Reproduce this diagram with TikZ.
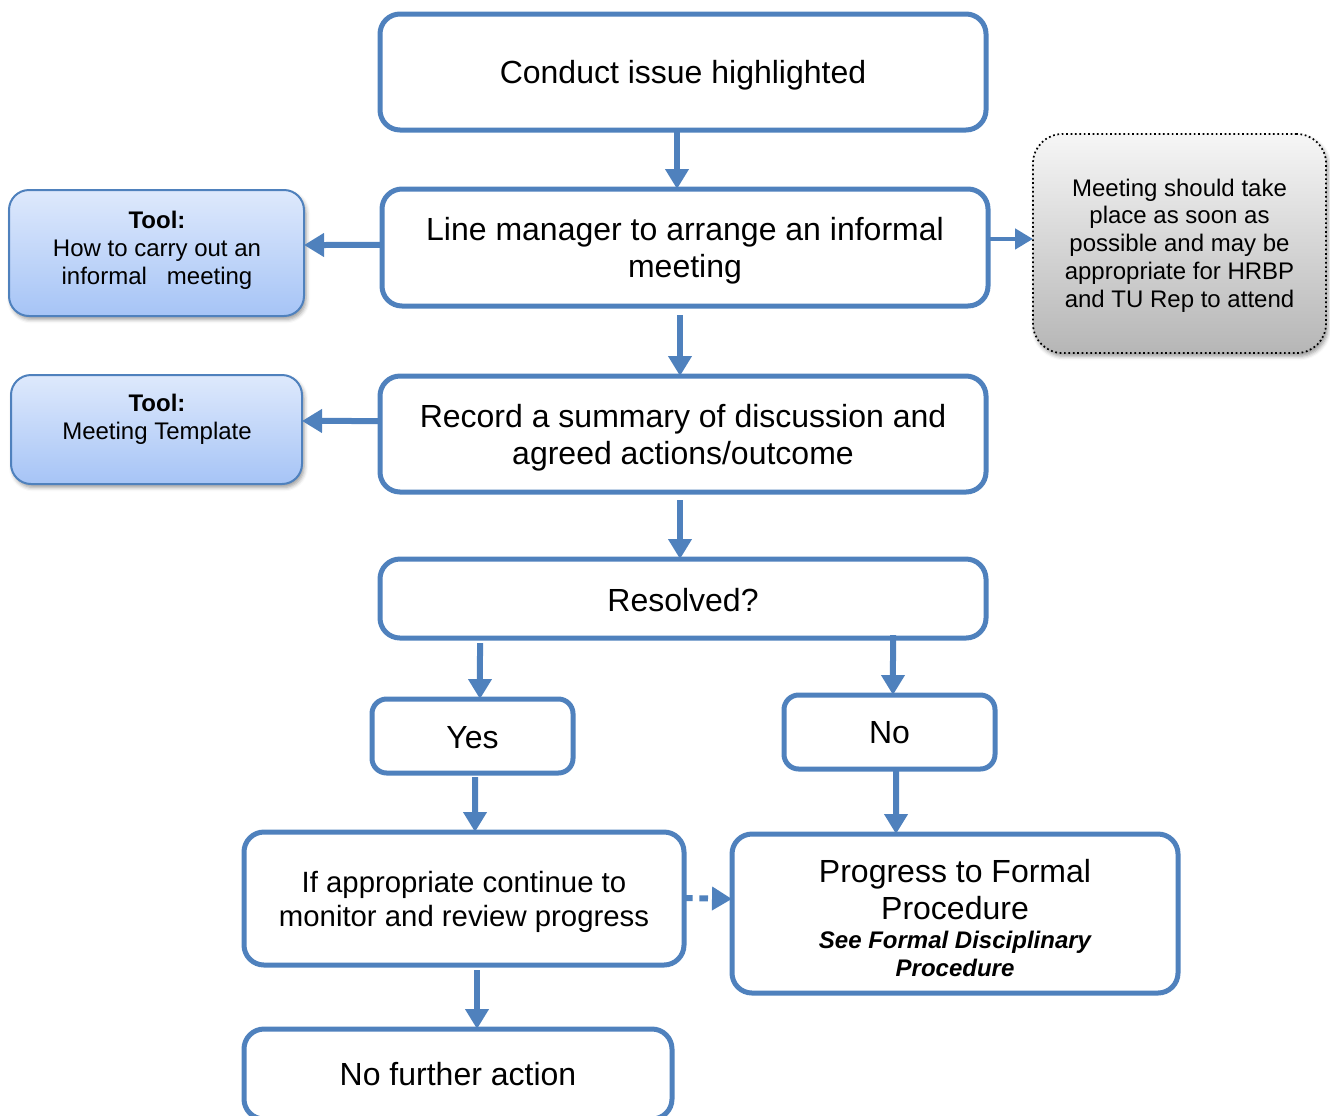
\documentclass[tikz,border=0pt]{standalone}
\usepackage{fontspec}
\setmainfont{Liberation Sans}
\usetikzlibrary{arrows.meta,shadows.blur}
\definecolor{bl}{RGB}{79,129,189}
\definecolor{tooltop}{RGB}{222,233,252}
\definecolor{toolbot}{RGB}{166,196,246}
\definecolor{graytop}{RGB}{246,246,246}
\definecolor{graybot}{RGB}{182,182,182}
\begin{document}
\begin{tikzpicture}[x=0.75pt,y=-0.75pt,
  mainbox/.style={draw=bl, line width=3.75pt, rounded corners=15pt, fill=white,
    inner sep=0pt, outer sep=0pt},
  mtext/.style={align=center, inner sep=0pt, font=\fontsize{24}{27.75}\selectfont},
  toolbox/.style={draw=bl, line width=1.5pt, rounded corners=15pt, top color=tooltop, bottom color=toolbot,
    inner sep=0pt, outer sep=0pt,
    blur shadow={shadow xshift=1.5pt, shadow yshift=-2.5pt, shadow blur radius=3pt, shadow opacity=40}},
  tooltext/.style={align=center, inner sep=0pt, font=\fontsize{18}{21}\selectfont},
  notebox/.style={draw=black, dotted, line width=1.3pt, rounded corners=22pt, top color=graytop, bottom color=graybot,
    inner sep=0pt, outer sep=0pt,
    blur shadow={shadow xshift=1.5pt, shadow yshift=-2.5pt, shadow blur radius=3pt, shadow opacity=40}},
  arr/.style={draw=bl, line width=4.5pt, -{Triangle[width=17pt,length=15pt]}},
]
\useasboundingbox (0,0) rectangle (1330,1115);
\clip (0,0) rectangle (1330,1115);

% main flow boxes
\node[mainbox, minimum width=454.5pt, minimum height=87pt] (B1) at (683,72) {};
\node[mtext] (B1t) at (683,75.5) {Conduct issue highlighted};
\node[mainbox, minimum width=454.5pt, minimum height=87.75pt] (B2) at (685,247.5) {};
\node[mtext] (B2t) at (685,251) {Line manager to arrange an informal\\meeting};
\node[mainbox, minimum width=454.5pt, minimum height=87pt] (B3) at (683,434) {};
\node[mtext] (B3t) at (683,437.5) {Record a summary of discussion and\\agreed actions/outcome};
\node[mainbox, minimum width=454.5pt, minimum height=59.25pt] (B4) at (683,598.5) {};
\node[mtext] (B4t) at (683,600.5) {Resolved?};
\node[mainbox, rounded corners=11pt, minimum width=150.75pt, minimum height=55.5pt] (Yes) at (472.5,736) {};
\node[mtext] (Yest) at (472.5,738) {Yes};
\node[mainbox, rounded corners=11pt, minimum width=158.25pt, minimum height=55.5pt] (No) at (889.5,732) {};
\node[mtext] (Not) at (889.5,733) {No};
\node[mainbox, minimum width=330pt, minimum height=99.75pt] (Mon) at (464,898.5) {};
\node[mtext, font=\fontsize{22}{25.5}\selectfont] (Mont) at (464,901.5)
  {If appropriate continue to\\monitor and review progress};
\node[mainbox, minimum width=334.5pt, minimum height=119.25pt] (Prog) at (955,913.5) {};
\node[mtext] (Progt) at (955,918)
  {Progress to Formal\\Procedure\\[-5.75pt]{\fontsize{18}{21}\selectfont\bfseries\itshape See Formal Disciplinary}\\[-6.5pt]{\fontsize{18}{21}\selectfont\bfseries\itshape Procedure}};
\node[mainbox, minimum width=321pt, minimum height=67.5pt] (NFA) at (458,1074) {};
\node[mtext] (NFAt) at (458,1074.5) {No further action};

% tool boxes
\node[toolbox, minimum width=221.25pt, minimum height=94.5pt] (T1) at (156.5,253) {};
\node[tooltext] (T1t) at (157,250) {\textbf{Tool:}\\How to carry out an\\informal\ \ \ meeting};
\node[toolbox, minimum width=218.25pt, minimum height=81.75pt] (T2) at (156.5,429.5) {};
\node[tooltext] (T2t) at (157,419) {\textbf{Tool:}\\Meeting Template};

% note box
\node[notebox, minimum width=219.75pt, minimum height=164.25pt] (G) at (1179.5,243.5) {};
\node[align=center, inner sep=0pt, font=\fontsize{18}{20.8}\selectfont] (Gt) at (1179.5,245.5)
  {Meeting should take\\place as soon as\\possible and may be\\appropriate for HRBP\\and TU Rep to attend};

% connectors
\draw[arr] ([xshift=-4.5pt]B1.south) -- ([xshift=-6pt]B2.north);
\draw[arr] ([xshift=-3.75pt,yshift=-6.75pt]B2.south) -- ([xshift=-2.25pt]B3.north);
\draw[arr] ([xshift=-2.25pt,yshift=-6pt]B3.south) -- ([xshift=-2.25pt]B4.north);
\draw[arr] ([xshift=-152.25pt,yshift=-3.75pt]B4.south) -- ([xshift=5.6pt]Yes.north);
\draw[arr] ([xshift=157.5pt,yshift=2.25pt]B4.south) -- ([xshift=2.6pt]No.north);
\draw[arr] ([xshift=1.9pt,yshift=-3pt]Yes.south) -- ([xshift=8.25pt]Mon.north);
\draw[arr] ([xshift=4.9pt]No.south) -- ([xshift=-44.25pt]Prog.north);
\draw[arr] ([xshift=9.75pt,yshift=-3.75pt]Mon.south) -- ([xshift=14.25pt]NFA.north);
\draw[arr] ([yshift=1.9pt]B2.west) -- ([yshift=6pt]T1.east);
\draw[arr] ([yshift=9.75pt]B3.west) -- ([yshift=6.4pt]T2.east);
\draw[arr, line width=3.5pt, -{Triangle[width=15pt,length=13.5pt]}] ([yshift=6.4pt]B2.east) -- ([yshift=3.4pt]G.west);
\draw[arr, dash pattern=on 6.5pt off 5pt] ([yshift=0.4pt]Mon.east) -- ([yshift=10.9pt]Prog.west);
\end{tikzpicture}
\end{document}
